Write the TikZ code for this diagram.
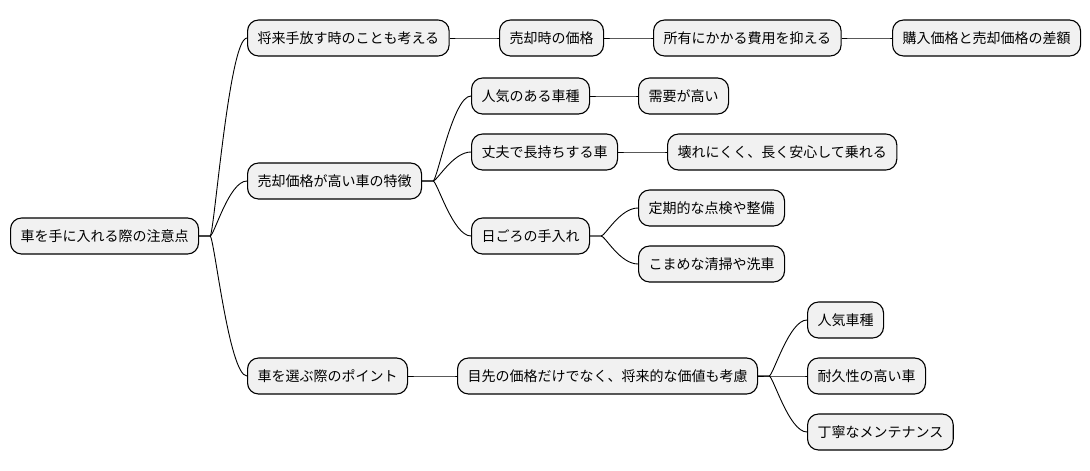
\documentclass[tikz,border=0pt]{standalone}
\usepackage{fontspec}
\setmainfont{Noto Sans CJK JP}
\usetikzlibrary{calc}
\tikzset{
  mmbox/.style={draw=black, line width=1.1pt, fill=boxgray, rounded corners=11pt,
    minimum height=36pt, inner xsep=10pt, inner ysep=0pt, anchor=west,
    font=\fontsize{14pt}{16pt}\selectfont, text=black},
  conn/.style={draw=black, line width=0.9pt}
}
\definecolor{boxgray}{HTML}{F1F1F1}
\newcommand\mmedge[2]{\draw[conn] (#1.east) -- ++(11,0) .. controls +(4,0) and +(-18,0) .. (#2.west);}
\begin{document}
\begin{tikzpicture}[x=1pt,y=1pt]
\useasboundingbox[fill=white] (0,0) rectangle (1090,-471);
\node[mmbox] (r) at (10,-236) {車を手に入れる際の注意点};
\node[mmbox] (a) at (247,-38) {将来手放す時のことも考える};
\node[mmbox] (a1) at (499,-38) {売却時の価格};
\node[mmbox] (a2) at (653,-38) {所有にかかる費用を抑える};
\node[mmbox] (a3) at (892,-38) {購入価格と売却価格の差額};
\node[mmbox] (b) at (247,-181) {売却価格が高い車の特徴};
\node[mmbox] (b1) at (471,-96) {人気のある車種};
\node[mmbox] (b11) at (638,-96) {需要が高い};
\node[mmbox] (b2) at (471,-152) {丈夫で長持ちする車};
\node[mmbox] (b21) at (667,-152) {壊れにくく、長く安心して乗れる};
\node[mmbox] (b3) at (471,-236) {日ごろの手入れ};
\node[mmbox] (b31) at (638,-208) {定期的な点検や整備};
\node[mmbox] (b32) at (638,-264) {こまめな清掃や洗車};
\node[mmbox] (c) at (247,-376) {車を選ぶ際のポイント};
\node[mmbox] (c1) at (457,-376) {目先の価格だけでなく、将来的な価値も考慮};
\node[mmbox] (c11) at (807,-320) {人気車種};
\node[mmbox] (c12) at (807,-376) {耐久性の高い車};
\node[mmbox] (c13) at (807,-432) {丁寧なメンテナンス};
\mmedge{r}{a}
\mmedge{r}{b}
\mmedge{r}{c}
\mmedge{a}{a1}
\mmedge{a1}{a2}
\mmedge{a2}{a3}
\mmedge{b}{b1}
\mmedge{b}{b2}
\mmedge{b}{b3}
\mmedge{b1}{b11}
\mmedge{b2}{b21}
\mmedge{b3}{b31}
\mmedge{b3}{b32}
\mmedge{c}{c1}
\mmedge{c1}{c11}
\mmedge{c1}{c12}
\mmedge{c1}{c13}
\end{tikzpicture}
\end{document}
